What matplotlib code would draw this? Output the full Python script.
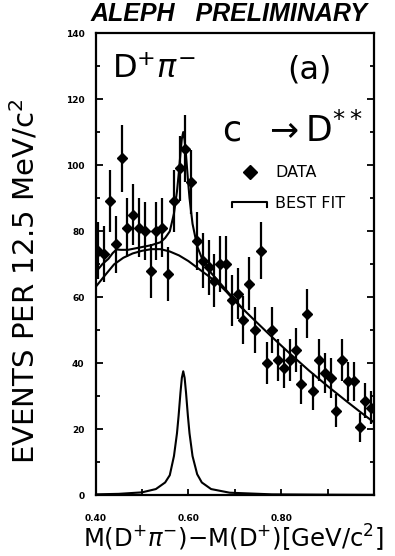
#!/usr/bin/env python3
from __future__ import annotations

import numpy as np
import matplotlib

matplotlib.use("Agg")
import matplotlib.pyplot as plt
from matplotlib.legend_handler import HandlerBase
from matplotlib.lines import Line2D


BIN_LOW = 0.40
BIN_WIDTH = 0.0125

# events per 12.5 MeV bin
COUNTS = [74, 73, 89, 76, 102, 81, 85, 81, 80, 68, 80, 81, 67, 89, 99, 105,
          95, 77, 71, 69, 65, 70, 70, 59, 61, 53, 64, 50, 74, 40, 50, 41,
          38.5, 41, 44, 33.5, 55, 31.5, 41, 37, 35.5, 25.5, 41, 34.5, 34.5, 20.5, 28.5, 26.5]
ERRORS = [8.6, 8.5, 9.4, 8.7, 10.1, 9.0, 9.2, 9.0, 8.9, 8.2, 8.9, 9.0, 8.2, 9.4, 9.9, 10.2,
          9.7, 8.8, 8.4, 8.3, 8.1, 8.4, 8.4, 7.7, 7.8, 7.3, 8.0, 7.1, 8.6, 6.3, 7.1, 6.4,
          6.2, 6.4, 6.6, 5.8, 7.4, 5.6, 6.4, 6.1, 6.0, 5.0, 6.4, 5.9, 5.9, 4.5, 5.3, 5.1]

# background part of the fit
BG_X = [0.400, 0.420, 0.440, 0.460, 0.480, 0.500, 0.520, 0.540, 0.560, 0.580, 0.600, 0.620,
        0.640, 0.660, 0.680, 0.700, 0.740, 0.780, 0.820, 0.860, 0.900, 0.940, 0.970, 1.000]
BG_Y = [63.0, 66.5, 69.9, 71.9, 73.2, 74.0, 74.5, 74.5, 73.8, 72.6, 70.9, 68.8,
        66.7, 64.6, 61.9, 58.8, 53.3, 47.9, 42.7, 37.7, 33.0, 28.5, 25.2, 22.0]

# total fit (joins the background above ~0.72)
TOTAL_X = [0.400, 0.405, 0.415, 0.428, 0.437, 0.445, 0.455, 0.470, 0.495, 0.520, 0.540, 0.550,
           0.560, 0.569, 0.5755, 0.579, 0.583, 0.586, 0.589, 0.592, 0.595, 0.599, 0.6025,
           0.609, 0.619, 0.629, 0.649, 0.689, 0.720]
TOTAL_Y = [66.0, 68.3, 70.0, 71.6, 73.3, 74.4, 74.3, 74.3, 75.0, 75.7, 76.6, 77.9,
           79.9, 85.3, 92.0, 97.0, 103.5, 108.0, 110.0, 107.5, 103.0, 95.8, 90.0,
           82.2, 75.4, 71.8, 67.3, 60.9, 56.0]

# D** signal alone
SIG_X = [0.400, 0.450, 0.500, 0.530, 0.550, 0.560, 0.569, 0.5755, 0.579, 0.583, 0.586, 0.589,
         0.592, 0.595, 0.599, 0.6025, 0.609, 0.619, 0.629, 0.649, 0.689, 0.780, 0.900, 1.000]
SIG_Y = [0.2, 0.35, 0.8, 1.8, 3.8, 6.0, 11.8, 18.7, 24.0, 31.0, 35.5, 37.5,
         35.5, 31.0, 24.0, 18.7, 11.8, 6.3, 3.8, 1.8, 0.7, 0.2, 0.1, 0.05]


class BracketHandler(HandlerBase):
    def create_artists(self, legend, orig_handle, xdescent, ydescent, width, height, fontsize, trans):
        x0 = -xdescent
        top = -ydescent + height * 0.55
        low = top - height * 0.45
        line = Line2D([x0, x0, x0 + width, x0 + width], [low, top, top, low],
                      color="black", linewidth=1.5, transform=trans)
        return [line]


def main() -> None:
    plt.rcParams["mathtext.fontset"] = "dejavusans"
    centers = BIN_LOW + BIN_WIDTH * (np.arange(len(COUNTS)) + 0.5)

    fig = plt.figure(figsize=(3.95, 5.56), dpi=100)
    ax = fig.add_axes([0.2418, 0.1097, 0.7051, 0.8309])

    ax.errorbar(centers, COUNTS, yerr=ERRORS, fmt="D", color="black", markersize=5.5,
                elinewidth=1.6, capsize=0, label="DATA")
    ax.plot(TOTAL_X, TOTAL_Y, color="black", linewidth=1.5)
    ax.plot(BG_X, BG_Y, color="black", linewidth=1.5)
    ax.plot(SIG_X, SIG_Y, color="black", linewidth=1.5)

    ax.set_xlim(0.40, 1.00)
    ax.set_ylim(0, 140)
    ax.set_xticks([0.40, 0.60, 0.80])
    ax.set_xticklabels(["0.40", "0.60", "0.80"])
    ax.set_xticks([0.50, 0.70, 0.90], minor=True)
    ax.set_yticks(range(0, 141, 20))
    ax.set_yticks(range(10, 140, 20), minor=True)
    ax.tick_params(which="both", direction="in", width=1.3, left=True, right=True,
                   top=False, bottom=True)
    ax.tick_params(axis="y", which="major", length=5, pad=8)
    ax.tick_params(axis="y", which="minor", length=3)
    ax.tick_params(axis="x", which="both", length=4, pad=14)
    for label in ax.get_xticklabels() + ax.get_yticklabels():
        label.set_fontsize(6.5)
        label.set_fontweight("bold")
    for spine in ax.spines.values():
        spine.set_linewidth(1.6)

    ax.text(0.4355, 128.8, r"D$^{+}\pi^{-}$", fontsize=23, va="center", ha="left")
    ax.text(0.861, 128.8, "(a)", fontsize=23, va="center", ha="center")
    ax.text(0.672, 107, r"c  $\rightarrow$D$^{**}$", fontsize=25, va="baseline", ha="left")

    handles = [Line2D([], [], marker="D", linestyle="none", color="black", markersize=7),
               Line2D([], [], color="black")]
    ax.legend(handles, ["DATA", "BEST FIT"], loc="upper left", bbox_to_anchor=(0.49, 0.714),
              frameon=False, fontsize=11.5, borderpad=0, borderaxespad=0,
              handlelength=2.2, handletextpad=0.5, labelspacing=1.0,
              handler_map={handles[1]: BracketHandler()})

    fig.text(0.58, 0.975, "ALEPH   PRELIMINARY", fontsize=18, fontweight="bold",
             fontstyle="italic", family="Liberation Sans", ha="center", va="center")
    fig.text(0.063, 0.495, "EVENTS PER 12.5 MeV/c$^{2}$", rotation=90, fontsize=21,
             ha="center", va="center")
    fig.text(0.591, 0.032, r"M(D$^{+}\pi^{-}$)$-$M(D$^{+}$)[GeV/c$^{2}$]", fontsize=17.5,
             ha="center", va="center")

    fig.savefig("out.png", dpi=100)
    plt.close(fig)


if __name__ == "__main__":
    main()
